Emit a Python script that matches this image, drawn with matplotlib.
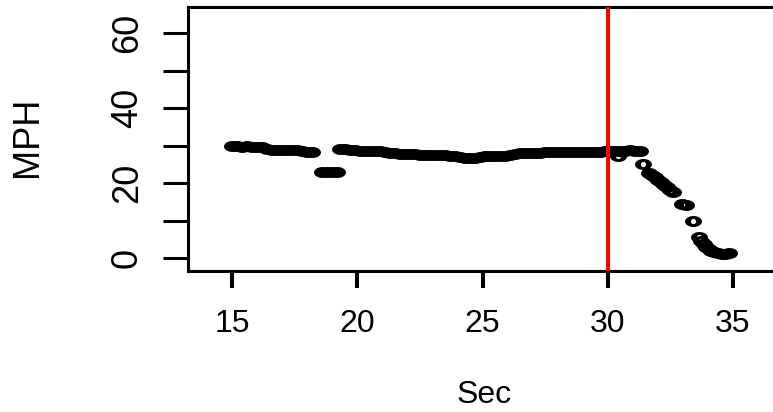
import matplotlib.pyplot as plt
import numpy as np
from matplotlib.path import Path
from matplotlib.markers import MarkerStyle

plt.rcParams['font.family'] = ['Liberation Sans', 'DejaVu Sans']

# speed trace (seconds, mph)
sec = [15.0, 15.2, 15.4, 15.6, 15.8, 16.0, 16.2, 16.4, 16.6, 16.8, 17.0, 17.2, 17.4, 17.6, 17.8, 18.0, 18.2,
       18.6, 18.8, 19.0, 19.2,
       19.3, 19.5, 19.7, 19.9, 20.1, 20.3, 20.5, 20.7, 20.9, 21.1, 21.3, 21.5, 21.7, 21.9, 22.1, 22.3,
       22.5, 22.7, 22.9, 23.1, 23.3, 23.5, 23.7, 23.9,
       24.1, 24.3, 24.5, 24.7, 24.9,
       25.1, 25.3, 25.5, 25.7, 25.9, 26.1,
       26.3, 26.5, 26.7, 26.9, 27.1, 27.3, 27.5, 27.7, 27.9, 28.1, 28.3, 28.5, 28.7, 28.9, 29.1, 29.3,
       29.5, 29.7, 29.9, 30.1, 30.3, 30.5, 30.7, 30.9, 31.1, 31.3,
       30.4,
       31.42, 31.65, 31.78, 31.9, 32.02, 32.14, 32.26, 32.38, 32.5, 32.62, 32.95, 33.12, 33.42, 33.64,
       33.74, 33.84, 33.94, 34.04, 34.14, 34.26, 34.4, 34.55, 34.7, 34.82]
mph = [29.9, 29.9, 29.8, 29.9, 29.8, 29.8, 29.7, 29.1, 29.0, 29.0, 29.0, 28.9, 29.0, 28.9, 28.6, 28.4, 28.3,
       23.0, 23.0, 23.0, 23.1,
       29.2, 29.1, 28.9, 28.8, 28.7, 28.7, 28.6, 28.6, 28.5, 28.4, 28.2, 28.0, 27.8, 27.7, 27.7, 27.7,
       27.6, 27.6, 27.6, 27.5, 27.5, 27.5, 27.4, 27.3,
       26.9, 26.8, 26.8, 26.8, 26.9,
       27.2, 27.3, 27.3, 27.3, 27.4, 27.6,
       27.9, 28.1, 28.2, 28.2, 28.2, 28.2, 28.3, 28.3, 28.3, 28.3, 28.3, 28.3, 28.3, 28.3, 28.4, 28.4,
       28.4, 28.4, 28.5, 28.6, 28.7, 28.7, 28.7, 28.8, 28.7, 28.6,
       27.2,
       25.2, 22.8, 22.3, 21.7, 21.0, 20.3, 19.6, 18.9, 18.3, 17.7, 14.4, 14.3, 10.0, 5.7,
       4.7, 3.8, 3.1, 2.5, 2.0, 1.6, 1.3, 1.2, 1.2, 1.3]

event_sec = 30
xticks = [15, 20, 25, 30, 35]
yticks = [0, 10, 20, 30, 40, 50, 60]
ytick_labels = ['0', '', '20', '', '40', '', '60']

fig = plt.figure(figsize=(7.73, 4.12), dpi=100)
ax = fig.add_axes([188 / 773, 1 - 270.5 / 412, 600.5 / 773, 263.2 / 412])

# open circles, squashed like the original: a filled ring (outer ellipse minus inner hole)
theta = np.linspace(0, 2 * np.pi, 41)
outer = np.column_stack([8.5 * np.cos(theta), 5.5 * np.sin(theta)])
inner = np.column_stack([2.6 * np.cos(theta[::-1]), 2.6 * np.sin(theta[::-1])])
codes = [Path.MOVETO] + [Path.LINETO] * 39 + [Path.CLOSEPOLY]
ring = Path(np.vstack([outer, inner]), codes + codes)
ax.plot(sec, mph, linestyle='none', marker=MarkerStyle(ring), ms=12.2,
        mfc='black', mec='none', mew=0)
ax.axvline(event_sec, color='red', lw=2.9, zorder=3)

ax.set_xlim(13.243, 37.215)
ax.set_ylim(-3.25, 66.93)
ax.set_xticks(xticks)
ax.set_yticks(yticks, ytick_labels)
for s in ax.spines.values():
    s.set_linewidth(2.2)
ax.tick_params(axis='x', length=12, width=2.9, pad=16, labelsize=23)
ax.tick_params(axis='y', length=18, width=2.2, pad=13, labelsize=26, labelrotation=90)
for lab in ax.get_yticklabels():
    lab.set_va('center')

fig.text(27 / 773, 1 - 137 / 412, 'MPH', rotation=90, ha='center', va='center', fontsize=26)
fig.text(484.5 / 773, 1 - 395 / 412, 'Sec', ha='center', va='center', fontsize=23)

fig.savefig('out.png', dpi=100)
